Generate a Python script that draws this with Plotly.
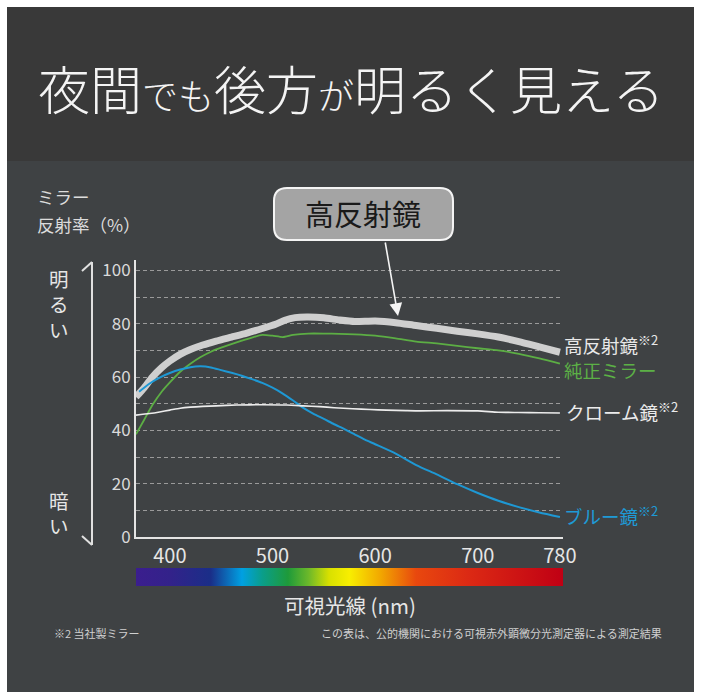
import plotly.graph_objects as go

# ---------------- data ----------------
hi_nm = [367, 375, 383, 392, 400, 410, 420, 432, 445, 460, 475, 490, 503, 512, 522, 535, 550, 565, 580, 600, 620, 640, 660, 680, 700, 720, 740, 760, 780]
hi_val = [52.5, 56, 60, 63.5, 66, 68.5, 70.3, 72, 73.5, 75, 76.5, 78.2, 79.8, 81.3, 82.3, 82.5, 82.2, 81.4, 80.8, 81, 80.4, 79.3, 78.3, 77.2, 76.2, 75, 73.3, 71.3, 69.3]

gr_nm = [367, 375, 383, 392, 400, 410, 420, 430, 440, 450, 465, 480, 490, 500, 510, 520, 535, 550, 565, 580, 600, 620, 640, 660, 680, 700, 720, 740, 760, 780]
gr_val = [38.5, 44, 49.5, 54.5, 58, 62, 65, 67.5, 69.5, 71, 73, 74.8, 75.8, 75.5, 75, 75.8, 76.3, 76.3, 76.2, 76, 75.5, 74.5, 73.3, 72.6, 71.7, 70.8, 70, 68.7, 67, 65]

bl_nm = [370, 380, 390, 400, 410, 420, 430, 440, 450, 460, 470, 480, 490, 500, 510, 520, 530, 540, 550, 560, 570, 580, 590, 600, 620, 640, 660, 680, 700, 720, 740, 760, 780]
bl_val = [54.5, 57.5, 59.8, 61.5, 62.8, 63.7, 64, 63.6, 62.6, 61.6, 60.5, 59.2, 57.8, 56, 53.8, 51.2, 48.4, 46.2, 44.3, 42.3, 40.5, 38.5, 36.5, 34.8, 31.3, 27, 23.5, 19.8, 16.5, 13.6, 11.2, 9.2, 7.5]

wh_nm = [367, 380, 390, 400, 410, 420, 432, 445, 465, 490, 514, 530, 546, 560, 578, 595, 611, 630, 644, 670, 700, 720, 740, 760, 780]
wh_val = [45.7, 46.3, 46.9, 47.6, 48.3, 48.7, 49, 49.2, 49.5, 49.6, 49.5, 49.2, 48.9, 48.5, 48.1, 47.8, 47.6, 47.4, 47.3, 47.4, 47.3, 46.8, 46.7, 46.6, 46.5]

x_ticks = [400, 500, 600, 700, 780]
y_ticks = [0, 20, 40, 60, 80, 100]

spectrum_lo, spectrum_hi = 367, 783
spectrum_stops = [
    [0.0, "#3b1e8e"], [0.079, "#33228a"], [0.175, "#1a2e88"], [0.248, "#00a0e2"],
    [0.296, "#0a9e8a"], [0.356, "#1e9a3a"], [0.404, "#6cb82a"], [0.452, "#d8e000"],
    [0.5, "#f8ee00"], [0.572, "#f2a800"], [0.656, "#e8480e"], [0.776, "#dc2a14"],
    [1.0, "#c00014"],
]

# ---------------- helpers ----------------
W, H = 702, 700
FONT = "Noto Sans CJK JP"


def fx(p):
    return p / W


def fy(p):
    return 1 - p / H


fig = go.Figure()

# curves
fig.add_trace(go.Scatter(x=hi_nm, y=hi_val, mode="lines", line=dict(color="#cfcfcf", width=7, shape="spline", smoothing=0.6), hoverinfo="skip"))
fig.add_trace(go.Scatter(x=gr_nm, y=gr_val, mode="lines", line=dict(color="#5cae44", width=1.8, shape="spline", smoothing=0.6), hoverinfo="skip"))
fig.add_trace(go.Scatter(x=bl_nm, y=bl_val, mode="lines", line=dict(color="#1e98d4", width=2, shape="spline", smoothing=0.6), hoverinfo="skip"))
fig.add_trace(go.Scatter(x=wh_nm, y=wh_val, mode="lines", line=dict(color="#ececec", width=1.6, shape="spline", smoothing=0.6), hoverinfo="skip"))

# spectrum bar (gradient-filled band on its own small y axis)
fig.add_trace(go.Scatter(
    x=[spectrum_lo, spectrum_hi, spectrum_hi, spectrum_lo, spectrum_lo],
    y=[0, 0, 1, 1, 0], mode="lines", fill="toself",
    fillgradient=dict(type="horizontal", colorscale=spectrum_stops),
    line=dict(width=0, color="rgba(0,0,0,0)"), hoverinfo="skip",
    xaxis="x", yaxis="y2",
))

grid = dict(gridcolor="#9a9a9a", gridwidth=1, griddash="4px,3px")

fig.update_layout(
    width=W, height=H, autosize=False,
    margin=dict(l=0, r=0, t=0, b=0, autoexpand=False),
    paper_bgcolor="#ffffff", plot_bgcolor="rgba(0,0,0,0)",
    showlegend=False,
    font=dict(family=FONT, color="#e6e6e6"),
    xaxis=dict(
        domain=[fx(136), fx(563)], range=[367, 783], anchor="y", automargin=False,
        showline=True, linecolor="#e4e4e4", linewidth=2,
        showgrid=False, zeroline=False, ticks="",
        tickmode="array", tickvals=x_ticks, ticktext=[str(v) for v in x_ticks],
        tickfont=dict(size=20, color="#e6e6e6", family=FONT),
        fixedrange=True,
    ),
    yaxis=dict(
        domain=[fy(537), fy(260)], range=[0, 103.9], anchor="x", automargin=False,
        showline=True, linecolor="#e4e4e4", linewidth=2,
        zeroline=False, ticks="",
        tickmode="array", tickvals=y_ticks, ticktext=[str(v) for v in y_ticks],
        showgrid=True, **grid,
        minor=dict(dtick=10, tick0=0, showgrid=True, **grid),
        tickfont=dict(size=17, color="#dadada", family=FONT),
        fixedrange=True,
    ),
    yaxis2=dict(
        domain=[fy(586), fy(568)], range=[0, 1], anchor="x", automargin=False,
        visible=False, fixedrange=True,
    ),
)

# background panels
shapes = [
    dict(type="rect", xref="paper", yref="paper", x0=fx(7), x1=fx(694), y0=fy(692), y1=fy(161),
         fillcolor="#3f4244", line=dict(width=0), layer="below"),
    dict(type="rect", xref="paper", yref="paper", x0=fx(7), x1=fx(694), y0=fy(161), y1=fy(7),
         fillcolor="#393939", line=dict(width=0), layer="below"),
    # bright / dark bracket arrow
    dict(type="line", xref="paper", yref="paper", x0=fx(92), x1=fx(92), y0=fy(262), y1=fy(545),
         line=dict(color="#e0e0e0", width=2)),
    dict(type="line", xref="paper", yref="paper", x0=fx(82), x1=fx(92), y0=fy(271), y1=fy(262),
         line=dict(color="#e0e0e0", width=2)),
    dict(type="line", xref="paper", yref="paper", x0=fx(82), x1=fx(92), y0=fy(536), y1=fy(545),
         line=dict(color="#e0e0e0", width=2)),
]

# rounded callout box
bx0, bx1, by0, by1 = 274, 453, 188, 240
r = 13
X0, X1 = fx(bx0), fx(bx1)
YT, YB = fy(by0), fy(by1)
rx, ry = r / W, r / H
path = (f"M {X0+rx},{YT} L {X1-rx},{YT} Q {X1},{YT} {X1},{YT-ry} L {X1},{YB+ry} "
        f"Q {X1},{YB} {X1-rx},{YB} L {X0+rx},{YB} Q {X0},{YB} {X0},{YB+ry} "
        f"L {X0},{YT-ry} Q {X0},{YT} {X0+rx},{YT} Z")
shapes.append(dict(type="path", xref="paper", yref="paper", path=path,
                   fillcolor="#a4a4a4", line=dict(color="#f4f4f4", width=2)))
fig.update_layout(shapes=shapes)


def note(text, x, y, size, color="#e6e6e6", xanchor="center", yanchor="middle", weight=None, **kw):
    f = dict(size=size, color=color, family=FONT)
    if weight is not None:
        f["weight"] = weight
    fig.add_annotation(text=text, x=fx(x), y=fy(y), xref="paper", yref="paper",
                       showarrow=False, xanchor=xanchor, yanchor=yanchor, font=f, **kw)


# title
note('夜間<span style="font-size:36px">でも</span>後方<span style="font-size:36px">が</span>明るく見える',
     351, 88, 52, color="#f4f4f4", weight=300)

# y-axis caption
note("ミラー", 35, 197, 17.5, color="#dcdcdc", xanchor="left")
note("反射率（%）", 35, 225, 17.5, color="#dcdcdc", xanchor="left")

# bright / dark (vertical)
note("明<br>る<br>い", 59, 304, 19.5, color="#e6e6e6")
note("暗<br>い", 59, 513, 19.5, color="#e6e6e6")

# callout text + arrow
note("高反射鏡", 363, 213, 29, color="#1a1a1a")
fig.add_annotation(x=fx(398), y=fy(316), xref="paper", yref="paper", text="",
                   showarrow=True, ax=-13, ay=-75, arrowhead=2, arrowsize=1.6,
                   arrowwidth=1.6, arrowcolor="#f4f4f4")

# series labels
note("高反射鏡<sup>※2</sup>", 562, 344, 18.5, color="#e8e8e8", xanchor="left")
note("純正ミラー", 562, 370, 18.5, color="#5cb046", xanchor="left")
note("クローム鏡<sup>※2</sup>", 564, 411, 18.5, color="#ececec", xanchor="left")
note("ブルー鏡<sup>※2</sup>", 562, 515, 18.5, color="#1e9ad6", xanchor="left")

# x-axis title
note("可視光線 (nm)", 350, 605, 20.5, color="#e6e6e6")

# footnotes
note("※2 当社製ミラー", 52, 633, 11, color="#d0d0d0", xanchor="left")
note("この表は、公的機関における可視赤外顕微分光測定器による測定結果", 664, 633, 11,
     color="#d0d0d0", xanchor="right")

fig.write_html("out.html", config={"displayModeBar": False})
